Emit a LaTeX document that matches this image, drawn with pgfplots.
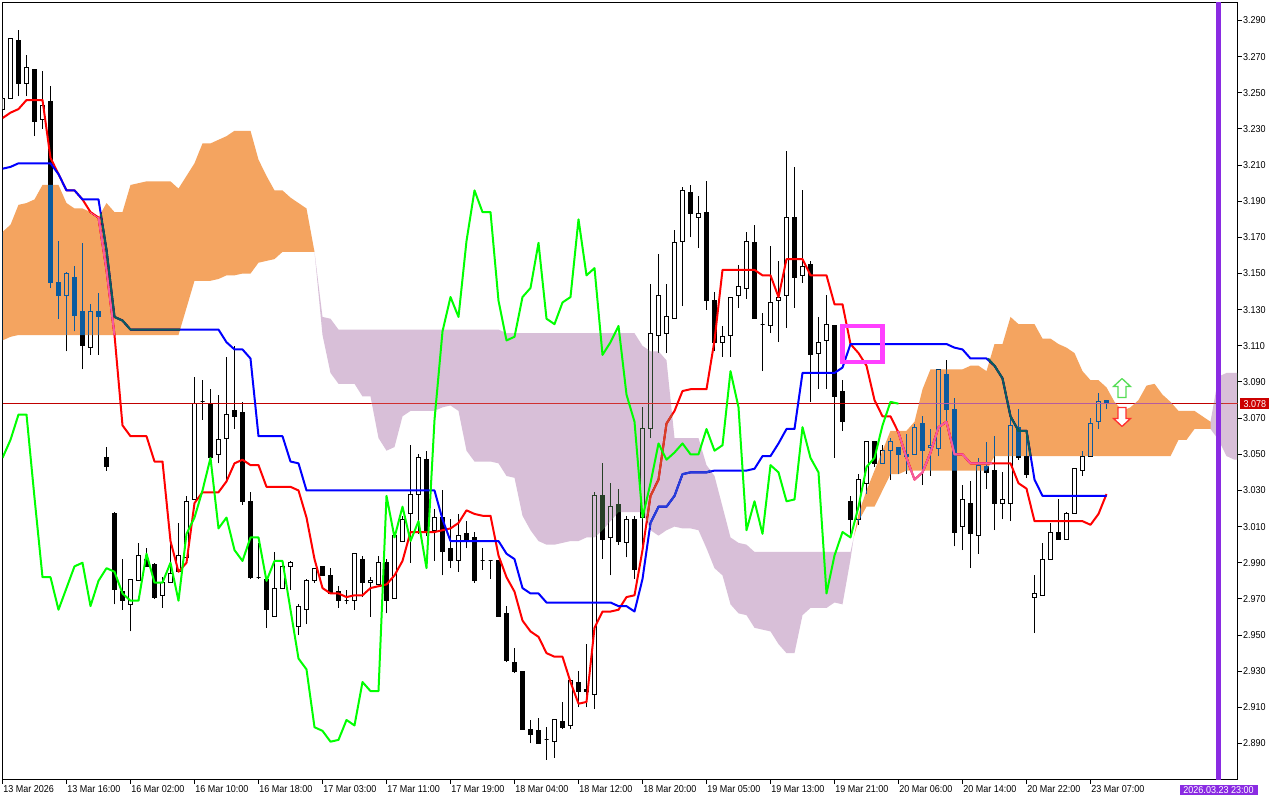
\documentclass[border=0pt]{standalone}
\usepackage{fontspec}
\setmainfont{Liberation Sans}[FakeStretch=0.9]
\usepackage{pgfplots}
\usepackage{pgfplotstable}
\pgfplotsset{compat=1.18}
% 1 px of the reference = 0.75bp here
\definecolor{pricered}{HTML}{C00000}
\definecolor{tagred}{HTML}{CC0000}
\definecolor{tagpurple}{HTML}{8A2BE2}
\definecolor{magentabox}{HTML}{FF40FF}
% cloud colours are the complement of sandybrown / thistle, they go on in difference mode
\definecolor{bullcloud}{HTML}{0B5B9F}
\definecolor{bearcloud}{HTML}{274027}
% lines as they look where they cross a cloud
\definecolor{redonbull}{HTML}{F45B9F}
\definecolor{blueonbull}{HTML}{0B5B60}
\definecolor{redonbear}{HTML}{D84027}
\definecolor{blueonbear}{HTML}{2740D8}
\definecolor{priceonbear}{HTML}{D03030}
\definecolor{arrowup}{HTML}{55DD55}
\definecolor{arrowdown}{HTML}{FF3030}
% index, open, high, low, close
\newcommand\candle[6]{%
  \pgfmathsetmacro\xl{#2-0.25}\pgfmathsetmacro\xr{#2+0.25}%
  \addplot[black,line width=0.75bp] coordinates {(#2,#5) (#2,#4)};
  \edef\temp{\noexpand\addplot[black,line width=0.75bp,fill=#1] coordinates {(\xl,#3) (\xr,#3) (\xr,#6) (\xl,#6)} --cycle;}\temp
}
\newcommand\bull{\candle{white}}
\newcommand\bear{\candle{black}}

\pgfplotstableread{
i ten kij
0 3.236 3.208
1 3.239 3.209
2 3.241 3.211
3 3.246 3.211
4 3.246 3.211
5 3.246 3.211
6 3.214 3.211
7 3.205 3.205
8 3.196 3.196
9 3.196 3.196
10 3.191 3.191
11 3.184 3.191
12 3.181 3.191
13 3.152 3.163
14 3.116 3.126
15 3.066 3.124
16 3.060 3.119
17 3.060 3.119
18 3.060 3.119
19 3.046 3.119
20 3.046 3.119
21 3.002 3.119
22 2.985 3.119
23 2.990 3.119
24 3.023 3.119
25 3.029 3.119
26 3.029 3.119
27 3.029 3.119
28 3.035 3.112
29 3.045 3.108
30 3.047 3.108
31 3.044 3.103
32 3.044 3.060
33 3.032 3.060
34 3.032 3.060
35 3.032 3.060
36 3.032 3.046
37 3.030 3.045
38 3.015 3.030
39 2.992 3.030
40 2.976 3.030
41 2.973 3.030
42 2.973 3.030
43 2.971 3.030
44 2.972 3.030
45 2.972 3.030
46 2.976 3.030
47 2.977 3.030
48 2.978 3.030
49 2.983 3.030
50 2.991 3.030
51 3.007 3.030
52 3.007 3.030
53 3.007 3.030
54 3.007 3.030
55 3.008 3.014
56 3.009 3.002
57 3.012 3.002
58 3.019 3.002
59 3.017 3.002
60 3.016 3.002
61 3.016 3.002
62 2.994 3.002
63 2.982 2.995
64 2.974 2.992
65 2.958 2.976
66 2.952 2.973
67 2.949 2.973
68 2.940 2.968
69 2.938 2.968
70 2.938 2.968
71 2.924 2.968
72 2.912 2.968
73 2.913 2.968
74 2.954 2.968
75 2.963 2.968
76 2.963 2.968
77 2.964 2.966
78 2.971 2.966
79 2.972 2.963
80 2.997 2.981
81 3.027 3.012
82 3.036 3.021
83 3.067 3.021
84 3.074 3.027
85 3.085 3.039
86 3.086 3.040
87 3.086 3.040
88 3.086 3.040
89 3.113 3.041
90 3.152 3.041
91 3.152 3.041
92 3.152 3.041
93 3.152 3.041
94 3.152 3.042
95 3.149 3.049
96 3.149 3.049
97 3.137 3.056
98 3.158 3.064
99 3.158 3.064
100 3.158 3.095
101 3.149 3.095
102 3.149 3.095
103 3.149 3.095
104 3.133 3.095
105 3.133 3.098
106 3.111 3.111
107 3.106 3.111
108 3.099 3.111
109 3.080 3.111
110 3.071 3.111
111 3.071 3.111
112 3.062 3.111
113 3.048 3.111
114 3.036 3.111
115 3.040 3.111
116 3.051 3.111
117 3.065 3.111
118 3.068 3.111
119 3.050 3.109
120 3.050 3.108
121 3.045 3.103
122 3.045 3.103
123 3.045 3.103
124 3.045 3.099
125 3.045 3.092
126 3.045 3.071
127 3.034 3.063
128 3.031 3.063
129 3.013 3.036
130 3.013 3.027
131 3.013 3.027
132 3.013 3.027
133 3.013 3.027
134 3.013 3.027
135 3.013 3.027
136 3.011 3.027
137 3.017 3.027
138 3.028 3.027
}\tenkankijun

\pgfplotstableread{
i p
0 3.048
1 3.058
2 3.072
3 3.072
4 3.026
5 2.982
6 2.982
7 2.964
8 2.976
9 2.988
10 2.990
11 2.966
12 2.980
13 2.987
14 2.985
15 2.973
16 2.969
17 2.969
18 2.995
19 2.979
20 2.979
21 2.990
22 2.969
23 3.006
24 3.015
25 3.030
26 3.048
27 3.009
28 3.015
29 2.997
30 2.991
31 3.004
32 3.004
33 2.980
34 2.991
35 2.991
36 2.964
37 2.937
38 2.931
39 2.899
40 2.897
41 2.891
42 2.892
43 2.903
44 2.900
45 2.924
46 2.919
47 2.919
48 3.027
49 3.004
50 3.021
51 3.002
52 3.013
53 2.987
54 3.069
55 3.118
56 3.137
57 3.126
58 3.168
59 3.196
60 3.184
61 3.184
62 3.135
63 3.113
64 3.115
65 3.137
66 3.142
67 3.167
68 3.125
69 3.122
70 3.134
71 3.137
72 3.180
73 3.149
74 3.153
75 3.105
76 3.112
77 3.121
78 3.083
79 3.068
80 3.015
81 3.034
82 3.056
83 3.047
84 3.051
85 3.056
86 3.050
87 3.050
88 3.064
89 3.052
90 3.055
91 3.096
92 3.076
93 3.008
94 3.024
95 3.006
96 3.044
97 3.040
98 3.024
99 3.025
100 3.065
101 3.048
102 3.040
103 2.973
104 2.994
105 3.007
106 3.004
107 3.021
108 3.043
109 3.048
110 3.066
111 3.079
112 3.078
}\chikou

% cloud outlines: upper edge forwards, lower edge back
\pgfplotstableread{
i p
0 3.173
1 3.177
2 3.188
3 3.189
4 3.191
5 3.199
6 3.199
7 3.199
8 3.189
9 3.186
10 3.186
11 3.184
12 3.181
13 3.189
14 3.184
15 3.184
16 3.199
17 3.200
18 3.201
19 3.201
20 3.201
21 3.201
22 3.197
23 3.204
24 3.211
25 3.222
26 3.222
27 3.224
28 3.226
29 3.229
30 3.229
31 3.229
32 3.213
33 3.204
34 3.196
35 3.196
36 3.192
37 3.189
38 3.186
39 3.162
38 3.162
37 3.162
36 3.162
35 3.162
34 3.158
33 3.157
32 3.156
31 3.150
30 3.150
29 3.149
28 3.149
27 3.147
26 3.146
25 3.146
24 3.146
23 3.131
22 3.116
2 3.116
1 3.115
0 3.113
}\cloudA

\pgfplotstableread{
i p
39 3.162
40 3.126
41 3.125
42 3.119
62 3.119
63 3.117
79 3.117
80 3.110
81 3.107
82 3.107
83 3.102
84 3.059
87 3.059
88 3.044
89 3.038
90 3.021
91 3.004
92 3.001
93 3.000
94 2.996
106 2.996
106.4 3.004
106 2.992
105 2.967
104 2.968
103 2.965
101 2.965
100 2.961
99 2.940
98 2.940
97 2.945
96 2.952
95 2.953
94 2.954
93 2.961
92 2.962
91 2.967
90 2.983
89 2.987
88 2.998
87 3.008
86 3.009
85 3.009
84 3.010
83 3.008
82 3.005
81 3.008
80 3.018
77 3.018
76 3.013
75 3.008
74 3.004
73 3.004
72 3.002
71 3.002
70 3.001
69 3.000
68 3.000
67 3.002
66 3.008
65 3.016
64 3.037
63 3.038
62 3.045
61 3.046
59 3.046
58 3.052
57 3.074
56 3.077
55 3.076
54 3.074
51 3.074
50 3.071
49 3.054
48 3.052
47 3.059
46 3.082
45 3.082
44 3.089
42 3.089
41 3.095
40 3.116
}\cloudB

\pgfplotstableread{
i p
106.4 3.004
107 3.017
108 3.030
109 3.041
110 3.052
111 3.063
113 3.063
114 3.068
115 3.086
116 3.097
120 3.097
121 3.099
122 3.099
123 3.096
124 3.111
125 3.111
126 3.126
127 3.122
129 3.122
130 3.114
131 3.114
132 3.111
133 3.109
134 3.106
135 3.096
136 3.091
137 3.091
138 3.087
139 3.079
140 3.074
141 3.076
142 3.080
143 3.088
144 3.089
145 3.083
146 3.079
147 3.074
149 3.074
150 3.071
151 3.068
151 3.064
149 3.064
148 3.058
147 3.058
146 3.049
124 3.049
123 3.041
113 3.041
112 3.039
111 3.039
110 3.030
109 3.021
108 3.021
107 3.013
}\cloudC

\pgfplotstableread{
i p
151 3.068
152 3.093
153 3.095
154.375 3.095
154.375 3.047
154 3.047
153 3.049
152 3.058
151 3.064
}\cloudD

\begin{document}
\begin{tikzpicture}
\path[use as bounding box] (0,0) rectangle (960bp,600bp);
\begin{axis}[
    at={(1.875bp,15.375bp)}, anchor=south west,
    scale only axis, width=926.25bp, height=582.75bp,
    xmin=0, xmax=154.375, ymin=2.87008, ymax=3.29996,
    clip mode=individual,
    axis background/.style={fill=white},
    axis line style={line width=0.75bp},
    font=\fontsize{7.5bp}{9bp}\selectfont,
    tick align=outside, tickwidth=3.2bp,
    tick style={black,line width=0.75bp},
    xtick pos=bottom, ytick pos=right, yticklabel pos=right,
    xtick={0,8,...,136},
    xticklabels={13 Mar 2026,13 Mar 16:00,16 Mar 02:00,16 Mar 10:00,16 Mar 18:00,17 Mar 03:00,17 Mar 11:00,17 Mar 19:00,18 Mar 04:00,18 Mar 12:00,18 Mar 20:00,19 Mar 05:00,19 Mar 13:00,19 Mar 21:00,20 Mar 06:00,20 Mar 14:00,20 Mar 22:00,23 Mar 07:00},
    xticklabel style={anchor=north west,inner sep=0pt,xshift=0.5bp,yshift=-1.2bp},
    ytick={2.89,2.91,2.93,2.95,2.97,2.99,3.01,3.03,3.05,3.07,3.09,3.11,3.13,3.15,3.17,3.19,3.21,3.23,3.25,3.27,3.29},
    yticklabel style={anchor=west,inner sep=0pt,xshift=0.8bp,
      /pgf/number format/fixed,/pgf/number format/fixed zerofill,/pgf/number format/precision=3,
      /pgf/number format/assume math mode=true},
    scaled y ticks=false,
]
\bull{0}{3.241}{3.247}{3.241}{3.247}
\bull{1}{3.247}{3.280}{3.247}{3.280}
\bear{2}{3.279}{3.285}{3.248}{3.255}
\bull{3}{3.255}{3.271}{3.248}{3.264}
\bear{4}{3.263}{3.263}{3.226}{3.234}
\bull{5}{3.235}{3.262}{3.230}{3.243}
\bear{6}{3.245}{3.254}{3.142}{3.145}
\bear{7}{3.145}{3.168}{3.125}{3.138}
\bull{8}{3.138}{3.151}{3.107}{3.150}
\bear{9}{3.148}{3.154}{3.118}{3.127}
\bear{10}{3.129}{3.167}{3.097}{3.110}
\bull{11}{3.109}{3.133}{3.105}{3.129}
\bear{12}{3.129}{3.139}{3.105}{3.126}
\bear{13}{3.048}{3.054}{3.041}{3.043}
\bear{14}{3.017}{3.018}{2.967}{2.975}
\bear{15}{2.974}{2.992}{2.964}{2.969}
\bull{16}{2.967}{2.981}{2.952}{2.981}
\bull{17}{2.980}{3.001}{2.980}{2.994}
\bear{18}{2.992}{2.998}{2.988}{2.988}
\bear{19}{2.989}{2.990}{2.970}{2.971}
\bull{20}{2.972}{2.982}{2.965}{2.979}
\bull{21}{2.979}{3.001}{2.979}{2.984}
\bull{22}{2.985}{3.012}{2.985}{2.994}
\bull{23}{2.993}{3.027}{2.993}{3.024}
\bull{24}{3.025}{3.093}{3.025}{3.078}
\bull{25}{3.079}{3.091}{3.069}{3.079}
\bear{26}{3.078}{3.086}{3.048}{3.048}
\bull{27}{3.050}{3.083}{3.045}{3.058}
\bull{28}{3.059}{3.104}{3.036}{3.072}
\bear{29}{3.074}{3.110}{3.064}{3.071}
\bear{30}{3.073}{3.079}{3.022}{3.024}
\bear{31}{3.024}{3.029}{2.981}{2.982}
\bull{32}{2.982}{3.001}{2.981}{2.982}
\bear{33}{2.981}{2.981}{2.954}{2.964}
\bull{34}{2.960}{2.996}{2.960}{2.976}
\bull{35}{2.976}{2.991}{2.976}{2.988}
\bull{36}{2.988}{2.991}{2.975}{2.990}
\bull{37}{2.955}{2.967}{2.950}{2.966}
\bull{38}{2.964}{2.981}{2.956}{2.980}
\bull{39}{2.980}{2.987}{2.979}{2.987}
\bear{40}{2.988}{2.988}{2.983}{2.983}
\bear{41}{2.983}{2.987}{2.973}{2.973}
\bear{42}{2.974}{2.977}{2.965}{2.969}
\bull{43}{2.969}{2.975}{2.967}{2.969}
\bull{44}{2.969}{2.995}{2.964}{2.995}
\bear{45}{2.992}{2.994}{2.971}{2.979}
\bull{46}{2.979}{2.982}{2.960}{2.980}
\bull{47}{2.978}{2.994}{2.978}{2.990}
\bear{48}{2.990}{2.992}{2.962}{2.969}
\bull{49}{2.970}{3.005}{2.970}{3.005}
\bull{50}{3.002}{3.016}{3.002}{3.014}
\bull{51}{3.017}{3.055}{2.990}{3.028}
\bull{52}{3.028}{3.050}{3.006}{3.048}
\bear{53}{3.047}{3.052}{3.005}{3.008}
\bull{54}{3.008}{3.020}{2.991}{3.015}
\bear{55}{3.015}{3.030}{2.983}{2.996}
\bear{56}{2.998}{3.014}{2.987}{2.991}
\bull{57}{2.991}{3.017}{2.985}{3.005}
\bear{58}{3.006}{3.013}{2.998}{3.003}
\bear{59}{3.004}{3.007}{2.979}{2.980}
\bull{60}{2.991}{2.998}{2.986}{2.991}
\bull{61}{2.991}{2.991}{2.981}{2.991}
\bear{62}{2.991}{2.991}{2.960}{2.960}
\bear{63}{2.962}{2.966}{2.935}{2.936}
\bear{64}{2.935}{2.943}{2.929}{2.930}
\bear{65}{2.930}{2.930}{2.898}{2.898}
\bear{66}{2.898}{2.903}{2.890}{2.895}
\bear{67}{2.897}{2.904}{2.890}{2.890}
\bull{68}{2.892}{2.899}{2.881}{2.892}
\bull{69}{2.891}{2.903}{2.882}{2.903}
\bear{70}{2.902}{2.913}{2.898}{2.899}
\bull{71}{2.900}{2.925}{2.898}{2.925}
\bear{72}{2.924}{2.930}{2.910}{2.919}
\bear{73}{2.920}{2.945}{2.910}{2.919}
\bull{74}{2.917}{3.029}{2.909}{3.027}
\bear{75}{3.027}{3.045}{2.992}{3.003}
\bull{76}{3.004}{3.034}{2.983}{3.021}
\bear{77}{3.022}{3.031}{3.000}{3.002}
\bull{78}{3.001}{3.016}{2.993}{3.014}
\bear{79}{3.014}{3.016}{2.981}{2.986}
\bull{80}{3.015}{3.076}{2.997}{3.064}
\bull{81}{3.064}{3.144}{3.059}{3.117}
\bull{82}{3.116}{3.161}{3.106}{3.138}
\bull{83}{3.117}{3.144}{3.106}{3.126}
\bull{84}{3.125}{3.174}{3.125}{3.167}
\bull{85}{3.168}{3.198}{3.132}{3.196}
\bear{86}{3.195}{3.199}{3.170}{3.183}
\bull{87}{3.181}{3.193}{3.164}{3.183}
\bear{88}{3.184}{3.201}{3.130}{3.135}
\bear{89}{3.135}{3.140}{3.107}{3.112}
\bull{90}{3.112}{3.121}{3.104}{3.115}
\bull{91}{3.116}{3.137}{3.104}{3.137}
\bull{92}{3.138}{3.155}{3.131}{3.143}
\bull{93}{3.142}{3.173}{3.136}{3.168}
\bear{94}{3.167}{3.177}{3.125}{3.125}
\bull{95}{3.122}{3.128}{3.096}{3.122}
\bull{96}{3.121}{3.165}{3.117}{3.134}
\bull{97}{3.135}{3.157}{3.112}{3.137}
\bull{98}{3.138}{3.218}{3.120}{3.181}
\bear{99}{3.181}{3.209}{3.131}{3.148}
\bull{100}{3.149}{3.196}{3.145}{3.154}
\bear{101}{3.155}{3.157}{3.079}{3.105}
\bull{102}{3.106}{3.126}{3.086}{3.112}
\bull{103}{3.113}{3.138}{3.086}{3.122}
\bear{104}{3.121}{3.121}{3.048}{3.082}
\bear{105}{3.085}{3.091}{3.063}{3.068}
\bear{106}{3.024}{3.027}{3.005}{3.014}
\bull{107}{3.014}{3.039}{3.011}{3.036}
\bull{108}{3.034}{3.057}{3.028}{3.057}
\bear{109}{3.057}{3.057}{3.043}{3.045}
\bull{110}{3.045}{3.055}{3.045}{3.052}
\bull{111}{3.052}{3.059}{3.036}{3.057}
\bear{112}{3.054}{3.054}{3.039}{3.050}
\bear{113}{3.050}{3.061}{3.039}{3.049}
\bull{114}{3.050}{3.067}{3.050}{3.065}
\bear{115}{3.067}{3.071}{3.033}{3.052}
\bull{116}{3.054}{3.064}{3.038}{3.055}
\bull{117}{3.053}{3.097}{3.049}{3.097}
\bear{118}{3.094}{3.102}{3.068}{3.075}
\bear{119}{3.075}{3.081}{2.999}{3.007}
\bull{120}{3.010}{3.033}{2.997}{3.025}
\bear{121}{3.023}{3.035}{2.987}{3.006}
\bull{122}{3.005}{3.048}{2.995}{3.044}
\bear{123}{3.043}{3.057}{3.031}{3.040}
\bear{124}{3.041}{3.060}{3.008}{3.023}
\bull{125}{3.023}{3.040}{3.014}{3.025}
\bull{126}{3.023}{3.070}{3.013}{3.066}
\bear{127}{3.065}{3.075}{3.047}{3.048}
\bear{128}{3.049}{3.063}{3.037}{3.039}
\bull{129}{2.971}{2.983}{2.951}{2.973}
\bull{130}{2.972}{3.001}{2.972}{2.992}
\bull{131}{2.992}{3.012}{2.992}{3.007}
\bear{132}{3.007}{3.025}{3.003}{3.003}
\bull{133}{3.003}{3.018}{3.003}{3.017}
\bull{134}{3.017}{3.042}{3.017}{3.042}
\bull{135}{3.041}{3.052}{3.038}{3.049}
\bull{136}{3.049}{3.070}{3.049}{3.067}
\bull{137}{3.068}{3.084}{3.064}{3.079}
\bear{138}{3.080}{3.080}{3.075}{3.078}

\addplot[pricered,line width=0.75bp] coordinates {(0,3.078) (154.375,3.078)};
\addplot[red,line width=1.5bp,line join=round] table[x=i,y=ten] {\tenkankijun};
\addplot[blue,line width=1.5bp,line join=round] table[x=i,y=kij] {\tenkankijun};

\addplot[draw=none,fill=bullcloud,blend mode=difference] table[x=i,y=p] {\cloudA};
\addplot[draw=none,fill=bearcloud,blend mode=difference] table[x=i,y=p] {\cloudB};
\addplot[draw=none,fill=bullcloud,blend mode=difference] table[x=i,y=p] {\cloudC};
\addplot[draw=none,fill=bearcloud,blend mode=difference] table[x=i,y=p] {\cloudD};

% line pieces inside the clouds again, flat colour, to clean the blended edges
\addplot[redonbull,line width=1.5bp,line join=round] coordinates {(12,3.181) (13,3.152) (14,3.116)};
\addplot[blueonbull,line width=1.5bp,line join=round] coordinates {(12.5,3.177) (13,3.163) (14,3.126) (15,3.124) (16,3.119) (22.2,3.119)};
\addplot[redonbull,line width=1.5bp,line join=round] coordinates {(112,3.062) (113,3.048) (114,3.036) (115,3.040) (116,3.051) (117,3.065) (118,3.068) (119,3.050) (120,3.050) (121,3.045) (123.7,3.045)};
\addplot[blueonbull,line width=1.5bp,line join=round] coordinates {(123.2,3.103) (124,3.099) (125,3.092) (126,3.071) (127,3.063) (128,3.063) (128.5,3.049)};
\addplot[redonbear,line width=1.5bp,line join=round] coordinates {(80.7,3.018) (81,3.027) (82,3.036) (83,3.067) (83.7,3.072)};
\addplot[blueonbear,line width=1.5bp,line join=round] coordinates {(81,3.012) (82,3.021) (83,3.021) (84,3.027) (85,3.039) (86,3.040) (87,3.040) (88,3.040) (88.5,3.041)};
\addplot[priceonbear,line width=0.75bp] coordinates {(46.1,3.078) (83.56,3.078)};
\addplot[priceonbear,line width=0.75bp] coordinates {(152.5,3.078) (154.375,3.078)};

\addplot[green,line width=1.5bp,line join=round] table[x=i,y=p] {\chikou};

\addplot[magentabox,line width=3.5bp] coordinates {(107,3.121) (110,3.121) (110,3.101) (105,3.101) (105,3.121) (107,3.121)};
\addplot[arrowup,fill=white,line width=1bp] coordinates {(139.94,3.0919) (141,3.0875) (140.44,3.0875) (140.44,3.0814) (139.44,3.0814) (139.44,3.0875) (138.88,3.0875) (139.94,3.0919)};
\addplot[arrowdown,fill=white,line width=1bp] coordinates {(139.94,3.0654) (141,3.0698) (140.44,3.0698) (140.44,3.0759) (139.44,3.0759) (139.44,3.0698) (138.88,3.0698) (139.94,3.0654)};
\addplot[tagpurple,line width=3.75bp] coordinates {(152,2.87008) (152,3.29996)};

\node[anchor=west,xshift=1.9bp,fill=tagred,text=white,inner sep=0pt,minimum width=21.75bp,minimum height=8bp] at (axis cs:154.375,3.078) {3.078};
\node[anchor=north,yshift=-3.6bp,fill=tagpurple,text=white,inner sep=0pt,minimum width=58.5bp,minimum height=8bp] at (axis cs:152,2.87008) {2026.03.23 23:00};
\end{axis}
\end{tikzpicture}
\end{document}
